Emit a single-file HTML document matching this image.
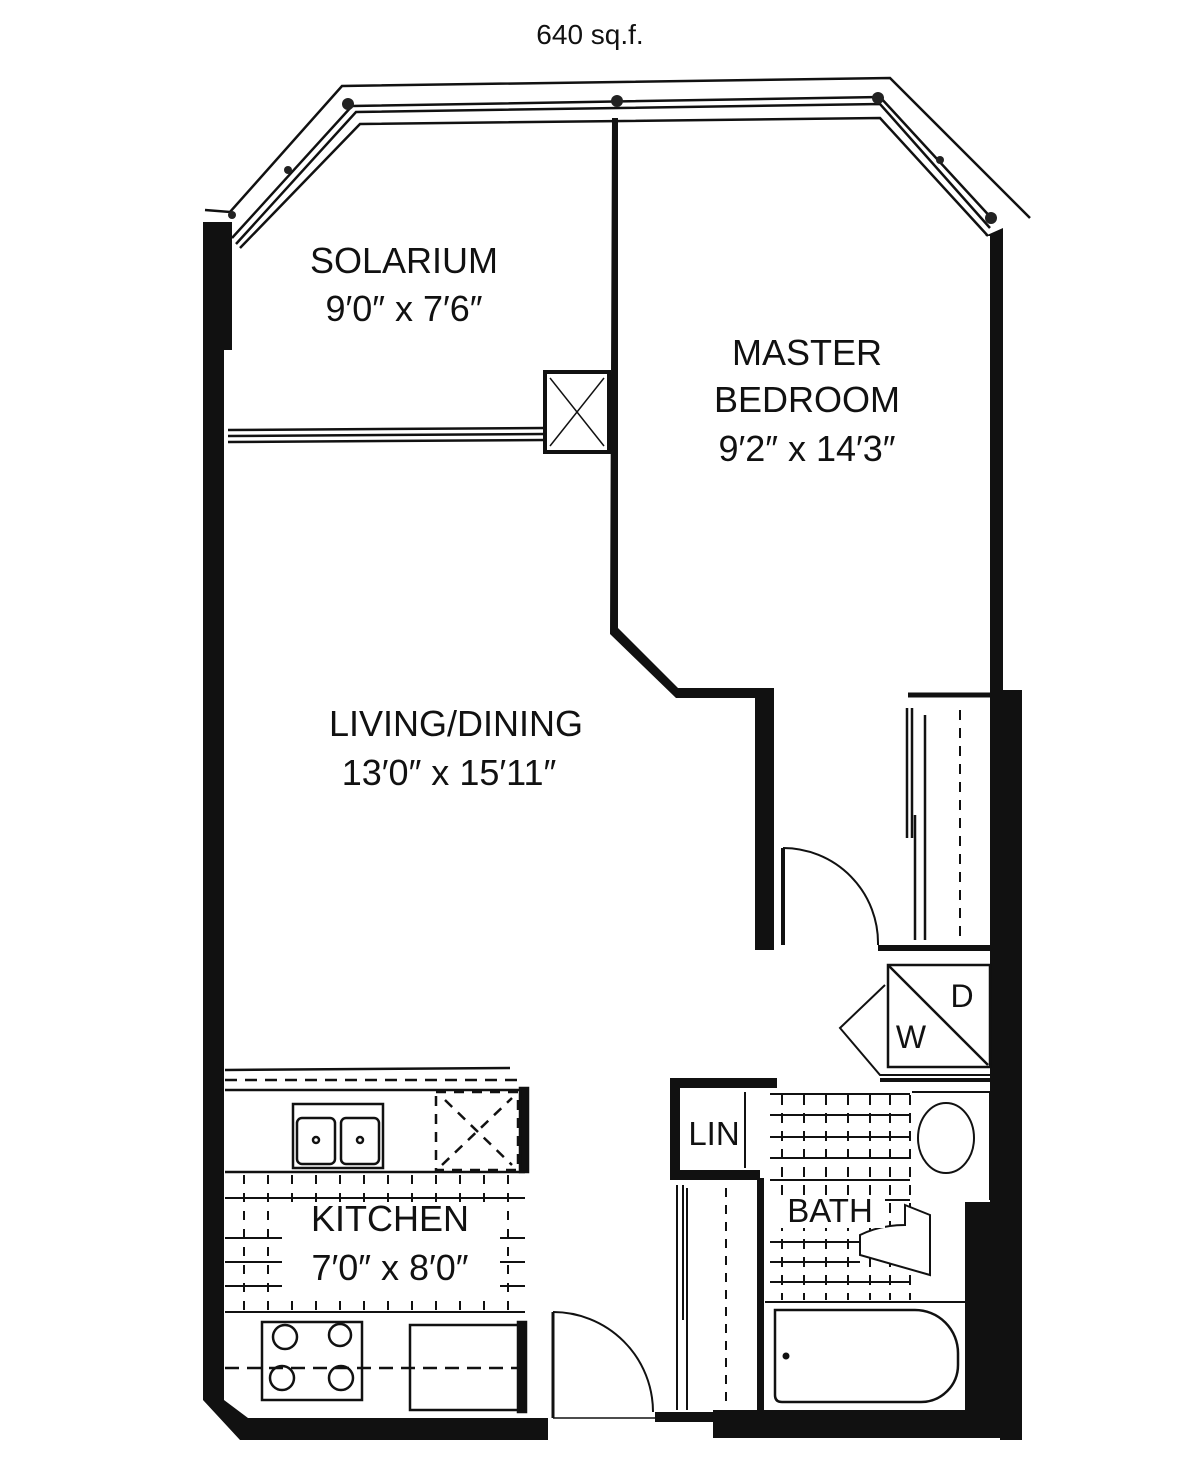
<!DOCTYPE html>
<html><head><meta charset="utf-8"><style>
html,body{margin:0;padding:0;background:#fff;}
svg{display:block;}
text{font-family:"Liberation Sans",sans-serif;fill:#111;}
</style></head><body>
<svg width="1200" height="1478" viewBox="0 0 1200 1478" xmlns="http://www.w3.org/2000/svg">
<text x="590" y="44" font-size="28" text-anchor="middle">640 sq.f.</text>

<g fill="none" stroke="#111" stroke-width="2.5">
<polyline points="205,210 230,212 342,86 890,78 1030,218"/>
<polyline points="232,238 352,106 880,97 995,222"/>
<polyline points="236,244 356,112 880,104 990,228"/>
<polyline points="240,248 360,124 880,118 988,236"/>
</g>
<g fill="#222">
<circle cx="348" cy="104" r="6"/><circle cx="617" cy="101" r="6"/><circle cx="878" cy="98" r="6"/>
<circle cx="991" cy="218" r="6"/><circle cx="288" cy="170" r="4"/><circle cx="940" cy="160" r="4"/><circle cx="232" cy="215" r="4"/>
</g>

<path d="M203,222 L232,222 L232,350 L224,350 L224,1400 L248,1418 L548,1418 L548,1440 L240,1440 L203,1400 Z" fill="#111"/>
<rect x="655" y="1412" width="60" height="10" fill="#111"/>
<rect x="713" y="1410" width="307" height="28" fill="#111"/>
<path d="M985,236 L1003,228 L1003,690 L1022,690 L1022,1440 L1000,1440 L1000,1410 L965,1410 L965,1202 L990,1202 L990,236 Z" fill="#111"/>

<path d="M612,118 L618,118 L618,628 L678,688 L774,688 L774,950 L755,950 L755,698 L676,698 L610,634 Z" fill="#111"/>

<g stroke="#111" stroke-width="2.5" fill="none">
<line x1="228" y1="430" x2="545" y2="428"/>
<line x1="228" y1="436" x2="545" y2="434"/>
<line x1="228" y1="442" x2="545" y2="440"/>
<rect x="545" y="372" width="64" height="80" stroke-width="4"/>
<line x1="550" y1="378" x2="604" y2="446" stroke-width="1.5"/>
<line x1="604" y1="378" x2="550" y2="446" stroke-width="1.5"/>
</g>

<g stroke="#111" fill="none" stroke-width="2.5">
<line x1="908" y1="695" x2="990" y2="695" stroke-width="5"/>
<line x1="907" y1="708" x2="907" y2="838"/>
<line x1="912" y1="708" x2="912" y2="838"/>
<line x1="915" y1="815" x2="915" y2="940"/>
<line x1="925" y1="715" x2="925" y2="940"/>
<line x1="960" y1="710" x2="960" y2="940" stroke-dasharray="10,8" stroke-width="2"/>
<line x1="878" y1="948" x2="990" y2="948" stroke-width="6"/>
<line x1="783" y1="848" x2="783" y2="945" stroke-width="4"/>
<path d="M783,848 A95,95 0 0 1 878,945" stroke-width="2"/>
</g>

<g stroke="#111" fill="none" stroke-width="2.5">
<rect x="888" y="965" width="102" height="102"/>
<line x1="888" y1="965" x2="988" y2="1065"/>
<polyline points="885,985 840,1028 880,1075 1000,1075" stroke-width="2"/>
<line x1="880" y1="1080" x2="1000" y2="1080" stroke-width="4"/>
</g>
<text x="962" y="1007" font-size="32" text-anchor="middle">D</text>
<text x="911" y="1048" font-size="32" text-anchor="middle">W</text>

<path d="M670,1078 L777,1078 L777,1088 L680,1088 L680,1170 L760,1170 L760,1180 L670,1180 Z" fill="#111"/>
<line x1="745" y1="1092" x2="745" y2="1168" stroke="#111" stroke-width="2"/>
<text x="714" y="1145" font-size="33" text-anchor="middle">LIN</text>
<g stroke="#111" fill="none" stroke-width="2">
<line x1="677" y1="1185" x2="677" y2="1410"/><line x1="683" y1="1185" x2="683" y2="1320"/>
<line x1="687" y1="1188" x2="687" y2="1410"/>
<line x1="726" y1="1188" x2="726" y2="1405" stroke-dasharray="9,8"/>
</g>
<rect x="757" y="1178" width="7" height="234" fill="#111"/>

<g stroke="#111" fill="none" stroke-width="2">
<line x1="770" y1="1094" x2="910" y2="1094"/><line x1="770" y1="1115" x2="910" y2="1115"/>
<line x1="770" y1="1137" x2="910" y2="1137"/><line x1="770" y1="1158" x2="910" y2="1158"/>
<line x1="770" y1="1180" x2="910" y2="1180"/><line x1="770" y1="1200" x2="910" y2="1200"/>
<line x1="770" y1="1242" x2="860" y2="1242"/><line x1="770" y1="1262" x2="860" y2="1262"/>
<line x1="770" y1="1282" x2="910" y2="1282"/>
<line x1="782" y1="1095" x2="782" y2="1300" stroke-dasharray="10,8"/>
<line x1="804" y1="1095" x2="804" y2="1300" stroke-dasharray="10,8"/>
<line x1="826" y1="1095" x2="826" y2="1300" stroke-dasharray="10,8"/>
<line x1="848" y1="1095" x2="848" y2="1300" stroke-dasharray="10,8"/>
<line x1="870" y1="1095" x2="870" y2="1300" stroke-dasharray="10,8"/>
<line x1="890" y1="1095" x2="890" y2="1300" stroke-dasharray="10,8"/>
<line x1="910" y1="1095" x2="910" y2="1300" stroke-dasharray="10,8"/>
<line x1="912" y1="1092" x2="990" y2="1092"/>
<line x1="990" y1="1092" x2="990" y2="1200"/>
<ellipse cx="946" cy="1138" rx="28" ry="35"/>
<path d="M905,1205 L930,1215 L930,1275 L860,1255 L860,1235 Q880,1225 905,1225 Z" fill="#fff"/>
<path d="M765,1302 L965,1302" stroke-width="2"/>
<path d="M775,1310 L915,1310 A43,43 0 0 1 958,1353 L958,1365 A37,37 0 0 1 921,1402 L782,1402 Q775,1402 775,1395 Z" stroke-width="2.5"/>
</g>
<circle cx="786" cy="1356" r="3.5" fill="#111"/>
<rect x="765" y="1198" width="120" height="30" fill="#fff"/>
<text x="830" y="1222" font-size="33" text-anchor="middle">BATH</text>

<g stroke="#111" fill="none" stroke-width="2.5">
<line x1="225" y1="1070" x2="510" y2="1068"/>
<line x1="225" y1="1080" x2="525" y2="1080" stroke-dasharray="12,8"/>
<line x1="225" y1="1090" x2="525" y2="1090"/>
<rect x="520" y="1088" width="8" height="84" fill="#111"/>
<rect x="293" y="1104" width="90" height="64"/>
<rect x="297" y="1118" width="38" height="46" rx="5"/>
<rect x="341" y="1118" width="38" height="46" rx="5"/>
<circle cx="316" cy="1140" r="3"/><circle cx="360" cy="1140" r="3"/>
<rect x="436" y="1092" width="82" height="78" stroke-dasharray="10,8"/>
<line x1="442" y1="1165" x2="512" y2="1098" stroke-dasharray="10,8"/>
<line x1="445" y1="1100" x2="512" y2="1165" stroke-dasharray="10,8"/>
<line x1="225" y1="1172" x2="525" y2="1172"/>
</g>
<g stroke="#111" stroke-width="2">
<line x1="225" y1="1198" x2="525" y2="1198"/><line x1="225" y1="1238" x2="525" y2="1238"/>
<line x1="225" y1="1262" x2="525" y2="1262"/><line x1="225" y1="1286" x2="525" y2="1286"/>
<line x1="225" y1="1312" x2="525" y2="1312"/>
<g stroke-dasharray="9,9">
<line x1="244" y1="1175" x2="244" y2="1318"/><line x1="268" y1="1175" x2="268" y2="1318"/>
<line x1="292" y1="1175" x2="292" y2="1318"/><line x1="316" y1="1175" x2="316" y2="1318"/>
<line x1="340" y1="1175" x2="340" y2="1318"/><line x1="364" y1="1175" x2="364" y2="1318"/>
<line x1="388" y1="1175" x2="388" y2="1318"/><line x1="412" y1="1175" x2="412" y2="1318"/>
<line x1="436" y1="1175" x2="436" y2="1318"/><line x1="460" y1="1175" x2="460" y2="1318"/>
<line x1="484" y1="1175" x2="484" y2="1318"/><line x1="508" y1="1175" x2="508" y2="1318"/>
</g>
</g>
<rect x="282" y="1204" width="218" height="88" fill="#fff"/>
<text x="390" y="1231" font-size="36" text-anchor="middle">KITCHEN</text>
<text x="390" y="1280" font-size="36" text-anchor="middle">7′0″ x 8′0″</text>
<g stroke="#111" fill="none" stroke-width="2.5">
<rect x="262" y="1322" width="100" height="78"/>
<circle cx="285" cy="1337" r="12"/><circle cx="340" cy="1335" r="11"/>
<circle cx="282" cy="1378" r="12"/><circle cx="341" cy="1378" r="12"/>
<rect x="410" y="1325" width="110" height="85"/>
<line x1="225" y1="1368" x2="520" y2="1368" stroke-dasharray="14,8"/>
<rect x="518" y="1322" width="8" height="90" fill="#111"/>
<line x1="553" y1="1312" x2="553" y2="1418" stroke-width="3"/>
<path d="M553,1312 A100,100 0 0 1 653,1412" stroke-width="2"/>
<line x1="553" y1="1418" x2="655" y2="1418" stroke-width="1.5"/>
</g>

<text x="404" y="273" font-size="36" text-anchor="middle">SOLARIUM</text>
<text x="404" y="321" font-size="36" text-anchor="middle">9′0″ x 7′6″</text>
<text x="807" y="365" font-size="36" text-anchor="middle">MASTER</text>
<text x="807" y="412" font-size="36" text-anchor="middle">BEDROOM</text>
<text x="807" y="461" font-size="36" text-anchor="middle">9′2″ x 14′3″</text>
<text x="456" y="736" font-size="36" text-anchor="middle">LIVING/DINING</text>
<text x="449" y="785" font-size="36" text-anchor="middle">13′0″ x 15′11″</text>
</svg>
</body></html>
